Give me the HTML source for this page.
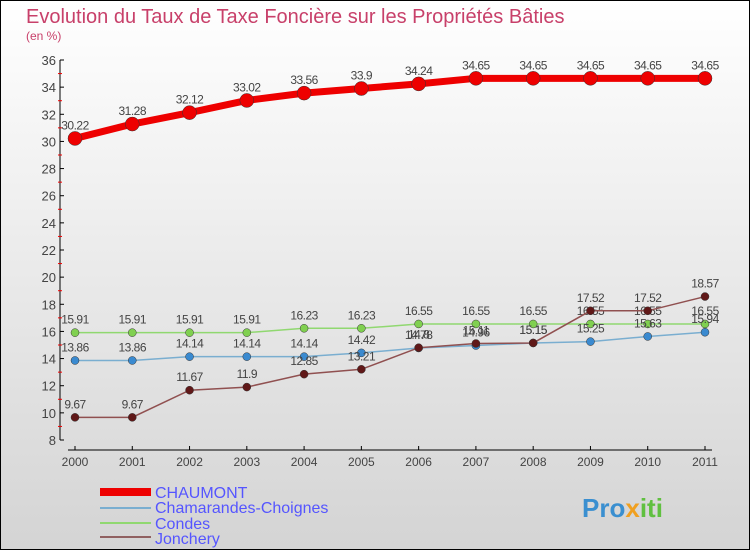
<!DOCTYPE html>
<html><head><meta charset="utf-8"><style>
body{margin:0;width:750px;height:550px;overflow:hidden;font-family:"Liberation Sans",sans-serif}
svg{display:block}
</style></head><body>
<svg id="chart" width="750" height="550" viewBox="0 0 750 550" xmlns="http://www.w3.org/2000/svg">
<defs><linearGradient id="bg" x1="0" y1="0" x2="0" y2="1"><stop offset="0" stop-color="#ffffff"/><stop offset="1" stop-color="#d4d4d4"/></linearGradient></defs>
<rect x="0.5" y="0.5" width="749" height="549" fill="url(#bg)" stroke="#000"/>
<text x="26" y="23" font-size="20" fill="#c8406a">Evolution du Taux de Taxe Foncière sur les Propriétés Bâties</text>
<text x="26" y="40" font-size="12" fill="#c8406a">(en %)</text>
<g id="axes"></g>
<g id="series"></g>
<g id="legend">
<rect x="100" y="488" width="51" height="8" fill="#ee0000"/>
<line x1="100" y1="508" x2="151" y2="508" stroke="#7aaed0" stroke-width="2"/>
<line x1="100" y1="523" x2="151" y2="523" stroke="#90d870" stroke-width="2"/>
<line x1="100" y1="537" x2="151" y2="537" stroke="#906060" stroke-width="2"/>
<text x="155" y="498" font-size="16" fill="#5555ff">CHAUMONT</text>
<text x="155" y="513" font-size="16" fill="#5555ff">Chamarandes-Choignes</text>
<text x="155" y="529" font-size="16" fill="#5555ff">Condes</text>
<text x="155" y="544" font-size="16" fill="#5555ff">Jonchery</text>
</g>
<text x="582" y="517" font-size="26" font-weight="bold" fill="#3a8fd0">Pro<tspan fill="#f0a020">x</tspan><tspan fill="#60c040">iti</tspan></text>
</svg>
<script>
const years=[2000,2001,2002,2003,2004,2005,2006,2007,2008,2009,2010,2011];
const yTicks=[8,10,12,14,16,18,20,22,24,26,28,30,32,34,36];
const chaumont=[30.22,31.28,32.12,33.02,33.56,33.9,34.24,34.65,34.65,34.65,34.65,34.65];
const chamarandes=[13.86,13.86,14.14,14.14,14.14,14.42,14.78,14.96,15.15,15.25,15.63,15.94];
const condes=[15.91,15.91,15.91,15.91,16.23,16.23,16.55,16.55,16.55,16.55,16.55,16.55];
const jonchery=[9.67,9.67,11.67,11.9,12.85,13.21,14.8,15.11,15.15,17.52,17.52,18.57];
const NS="http://www.w3.org/2000/svg";
const xS=i=>75+i*(630/(years.length-1));
const yS=v=>440-(v-8)*(380/28);
function mk(t,a,p){const e=document.createElementNS(NS,t);for(const k in a)e.setAttribute(k,a[k]);p.appendChild(e);return e;}
const ax=document.getElementById('axes');
let e=mk('line',{x1:60,y1:yS(36),x2:60,y2:yS(8),stroke:'#000'},ax);


e=mk('line',{x1:68,y1:450,x2:712,y2:450,stroke:'#000'},ax);


yTicks.forEach(v=>{
 mk('line',{x1:60,y1:yS(v),x2:64,y2:yS(v),stroke:'#000'},ax);
 if(v<36)mk('line',{x1:58,y1:yS(v+1),x2:62,y2:yS(v+1),stroke:'#e00'},ax);
 const t=mk('text',{x:56,y:yS(v)+5,'font-size':13,fill:'#444','text-anchor':'end'},ax);
 t.textContent=v;
 
 
});
years.forEach((y,i)=>{
 mk('line',{x1:xS(i),y1:446,x2:xS(i),y2:450,stroke:'#000'},ax);
 const t=mk('text',{x:xS(i),y:466,'font-size':12,fill:'#444','text-anchor':'middle'},ax);
 t.textContent=y;
 
 
});
const sg=document.getElementById('series');
function series(data,name,color,dot,w,r){
 const g=mk('g',{},sg);
 
 
 mk('polyline',{points:data.map((v,i)=>xS(i)+','+yS(v)).join(' '),fill:'none',stroke:color,'stroke-width':w},g);
 data.forEach((v,i)=>{
  const c=mk('circle',{cx:xS(i),cy:yS(v),r:r,fill:dot,stroke:'#333','stroke-width':0.5},g);
  
  
  const t=mk('text',{x:xS(i),y:yS(v)-9,'font-size':12,fill:'#444','text-anchor':'middle','letter-spacing':'-0.5'},g);
  t.textContent=v;
  
  
 });
}
series(condes,'condes','#90d870','#80d050',1.5,4);
series(chamarandes,'chamarandes','#7aaed0','#3a8ad0',1.5,4);
series(jonchery,'jonchery','#905050','#601818',1.5,4);
series(chaumont,'chaumont','#ee0000','#ee0000',7,7);
</script>
</body></html>
